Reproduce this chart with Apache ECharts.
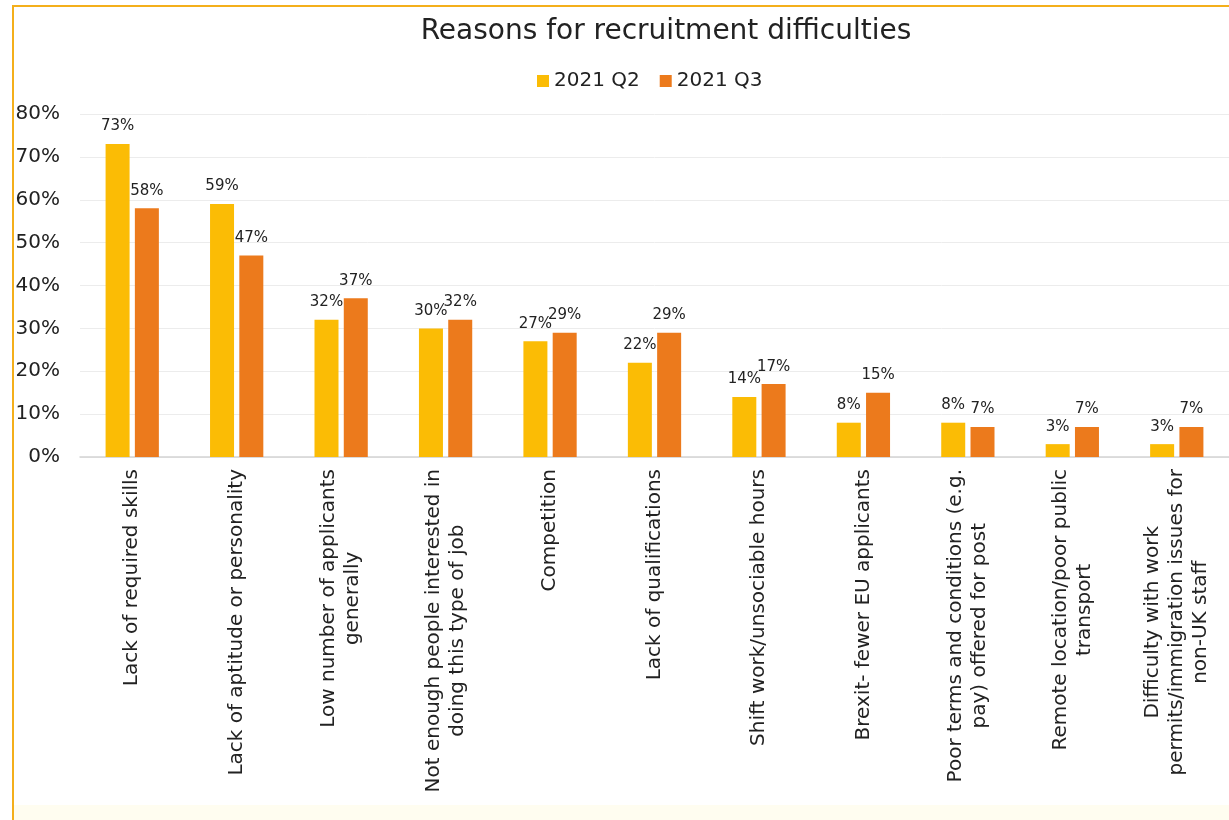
<!DOCTYPE html>
<html>
<head>
<meta charset="utf-8">
<script src="https://cdn.jsdelivr.net/npm/echarts@6/dist/echarts.min.js"></script>
<style>
  html, body { margin: 0; padding: 0; background: #ffffff; }
  #wrap { position: relative; width: 1229px; height: 820px; overflow: hidden; }
  #frame { position: absolute; left: 12px; top: 5px; right: -10px; bottom: -10px;
           border-top: 2px solid #F4AF1B; border-left: 2px solid #F4AF1B; }
  #strip { position: absolute; left: 14px; right: 0; top: 805px; bottom: 0; background: #FFFDF0; }
  #chart { position: absolute; left: 0; top: 0; width: 1229px; height: 820px; }
</style>
</head>
<body>
<div id="wrap">
  <div id="frame"></div>
  <div id="strip"></div>
  <div id="chart"></div>
</div>
<script>
const categories = [
  'Lack of required skills',
  'Lack of aptitude or personality',
  'Low number of applicants\ngenerally',
  'Not enough people interested in\ndoing this type of job',
  'Competition',
  'Lack of qualifications',
  'Shift work/unsociable hours',
  'Brexit- fewer EU applicants',
  'Poor terms and conditions (e.g.\npay) offered for post',
  'Remote location/poor public\ntransport',
  'Difficulty with work\npermits/immigration issues for\nnon-UK staff'
];
const q2Values = [73, 59, 32, 30, 27, 22, 14, 8, 8, 3, 3];
const q3Values = [58, 47, 37, 32, 29, 29, 17, 15, 7, 7, 7];
const yTicks = [0, 10, 20, 30, 40, 50, 60, 70, 80];

const FONT = '"DejaVu Sans", sans-serif';
const chart = echarts.init(document.getElementById('chart'), null, { renderer: 'canvas' });

const barLabel = {
  show: true,
  position: 'top',
  distance: 10,
  formatter: p => p.value + '%',
  color: '#222',
  fontSize: 15,
  fontFamily: FONT
};

chart.setOption({
  backgroundColor: 'transparent',
  animation: false,
  title: {
    text: 'Reasons for recruitment difficulties',
    left: 661,
    textAlign: 'center',
    top: 13,
    textStyle: { fontFamily: FONT, fontWeight: 'normal', fontSize: 28, color: '#222' }
  },
  legend: {
    data: ['2021 Q2', '2021 Q3'],
    left: 532,
    top: 66,
    icon: 'rect',
    itemWidth: 12,
    itemHeight: 12,
    itemGap: 20,
    textStyle: { fontFamily: FONT, fontSize: 20, color: '#222' }
  },
  grid: { left: 80, top: 114, width: 1177, bottom: 363, containLabel: false },
  xAxis: {
    type: 'category',
    data: categories,
    axisLine: { lineStyle: { color: '#d4d4d4', width: 1.5 } },
    axisTick: { show: false },
    axisLabel: {
      interval: 0,
      rotate: 90,
      margin: 12,
      color: '#222',
      fontFamily: FONT,
      fontSize: 20,
      lineHeight: 24,
      formatter: v => v.split('\n').map(s => '{c|' + s + '}').join('\n'),
      rich: { c: { align: 'center', fontFamily: FONT, fontSize: 20, lineHeight: 24, color: '#222' } }
    }
  },
  yAxis: {
    type: 'value',
    min: yTicks[0],
    max: yTicks[yTicks.length - 1],
    interval: 10,
    axisLine: { show: false },
    axisTick: { show: false },
    splitLine: { lineStyle: { color: '#ececec', width: 1 } },
    axisLabel: {
      margin: 20,
      color: '#222',
      fontFamily: FONT,
      fontSize: 20,
      formatter: v => v + '%'
    }
  },
  series: [
    {
      name: '2021 Q2',
      type: 'bar',
      data: q2Values,
      barWidth: 24,
      barGap: '22%',
      itemStyle: { color: '#FBBC05' },
      label: barLabel
    },
    {
      name: '2021 Q3',
      type: 'bar',
      data: q3Values,
      barWidth: 24,
      barGap: '22%',
      itemStyle: { color: '#EC7A1C' },
      label: barLabel
    }
  ]
});
</script>
</body>
</html>
